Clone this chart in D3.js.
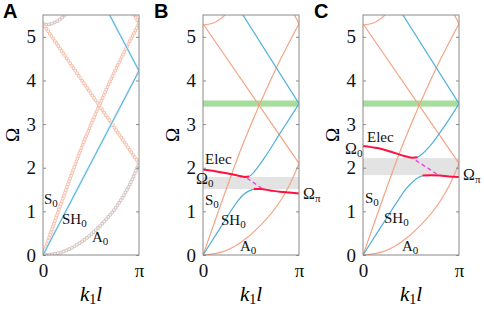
<!DOCTYPE html>
<html>
<head>
<meta charset="utf-8">
<script src="https://cdn.jsdelivr.net/npm/d3@7"></script>
<style>
body { margin: 0; background: #fff; }
</style>
</head>
<body>
<div id="chart-area"></div>
<script>
// wavenumber k1*l is stored in units of pi, frequency as Omega
let kTicks = [0, 1];
let kTickLabels = ["0", "π"];
let omegaTicks = [0, 1, 2, 3, 4, 5];
let panelNames = ["A", "B", "C"];

// plate branches (same in all three panels)
let s0 = [[0, 0], [0.2, 1.25], [0.4, 2.45], [0.6, 3.5], [0.8, 4.45], [1, 5.3]];
let s0Fold = [[0.953, 5.5], [1, 5.3]];
let a0 = [[0, 0], [0.2, 0.07], [0.4, 0.3], [0.6, 0.68], [0.8, 1.22], [0.9, 1.6], [1, 2.1]];
let a0Fold = [[0, 5.3], [1, 2.1]];
let a0Arc = [[0, 5.27], [0.1, 5.31], [0.17, 5.39], [0.23, 5.5]];

// SH0 in panel A (uncoupled)
let sh0A = [[0, 0], [1, 4.22]];
let sh0FoldA = [[1, 4.22], [0.694, 5.5]];
// SH0 fold in B and C
let sh0FoldBC = [[1, 3.47], [0.416, 5.5]];
let greenBand = [3.40, 3.54];

// panel B: coupled SH0 / electric branches
let upperRedB = [[0, 1.96], [0.1, 1.93], [0.2, 1.89], [0.3, 1.85], [0.38, 1.81], [0.44, 1.79], [0.48, 1.8]];
let upperBlueB = [[0.48, 1.8], [0.52, 1.87], [0.56, 1.98], [0.6, 2.1], [0.65, 2.26], [0.7, 2.43], [0.8, 2.78], [0.9, 3.12], [1, 3.47]];
let lowerBlueB = [[0, 0], [0.2, 0.69], [0.35, 1.2], [0.42, 1.38], [0.48, 1.47], [0.53, 1.51]];
let lowerRedB = [[0.53, 1.51], [0.6, 1.51], [0.7, 1.48], [0.8, 1.45], [0.9, 1.43], [1, 1.41]];
let elecDashB = [[0.46, 1.76], [0.63, 1.5]];
let gapB = [1.51, 1.79];

// panel C
let upperRedC = [[0, 2.5], [0.15, 2.45], [0.3, 2.36], [0.43, 2.27], [0.52, 2.23], [0.57, 2.24]];
let upperBlueC = [[0.57, 2.24], [0.62, 2.32], [0.67, 2.43], [0.72, 2.56], [0.8, 2.8], [0.9, 3.12], [1, 3.47]];
let lowerBlueC = [[0, 0], [0.2, 0.69], [0.35, 1.2], [0.45, 1.52], [0.52, 1.68], [0.58, 1.78], [0.62, 1.82]];
let lowerRedC = [[0.62, 1.82], [0.7, 1.83], [0.8, 1.82], [0.9, 1.8], [1, 1.79]];
let elecDashC = [[0.55, 2.17], [0.78, 1.84]];
let gapC = [1.83, 2.22];

let orange = "#f4a484", blue = "#4fb0da", red = "#ff1040", magenta = "#ee3fe6";
let serif = "'Liberation Serif', 'Times New Roman', serif";

let svg = d3.select("#chart-area")
    .append("svg")
    .attr("width", 484)
    .attr("height", 309);

let plotW = 96, plotTop = 15, plotBottom = 255;
let lefts = [43, 203, 363];
let letterX = [3, 154, 314];

let y = d3.scaleLinear().domain([0, 5.5]).range([plotBottom, plotTop]);

function drawPanel(i) {
    let left = lefts[i];
    let x = d3.scaleLinear().domain([0, 1]).range([left, left + plotW]);
    let g = svg.append("g");
    let clipId = "clip" + i;
    g.append("clipPath").attr("id", clipId)
        .append("rect").attr("x", left).attr("y", plotTop).attr("width", plotW).attr("height", plotBottom - plotTop);
    let plot = g.append("g").attr("clip-path", "url(#" + clipId + ")");

    let line = d3.line().x(d => x(d[0])).y(d => y(d[1])).curve(d3.curveMonotoneX);
    let lineK = d3.line().x(d => x(d[0])).y(d => y(d[1])).curve(d3.curveLinear);

    function band(b, color) {
        plot.append("rect")
            .attr("x", x(0)).attr("width", x(1) - x(0))
            .attr("y", y(b[1])).attr("height", y(b[0]) - y(b[1]))
            .attr("fill", color);
    }

    function path(data, color, width, gen) {
        return plot.append("path")
            .attr("d", (gen || line)(data))
            .attr("fill", "none")
            .attr("stroke", color)
            .attr("stroke-width", width);
    }

    // chain of hollow circles for the computed points in panel A
    function rings(data, outer, inner, gen) {
        path(data, outer, 3.8, gen).attr("stroke-dasharray", "0 3").attr("stroke-linecap", "round");
        path(data, inner, 2, gen).attr("stroke-dasharray", "0 3").attr("stroke-linecap", "round");
    }

    if (i === 0) {
        rings(a0, "#d2c2be", "#f8f4f3");
        rings(a0Arc, "#d2c2be", "#f8f4f3");
        rings(s0, "#f4bfac", "#fef3ef");
        rings(s0Fold, "#f4bfac", "#fef3ef", lineK);
        rings(a0Fold, "#f4bfac", "#fef3ef", lineK);
        path(sh0A, "#d3e9f4", 2.4, lineK);
        path(sh0FoldA, "#d3e9f4", 2.4, lineK);
        path(sh0A, blue, 1, lineK);
        path(sh0FoldA, blue, 1, lineK);
    } else {
        let gap = i === 1 ? gapB : gapC;
        band(gap, "#e3e3e3");
        band(greenBand, "#a4dd9c");
        path(a0, orange, 1.2);
        path(a0Arc, orange, 1.2);
        path(s0, orange, 1.2);
        path(s0Fold, orange, 1.2, lineK);
        path(a0Fold, orange, 1.2, lineK);
        path(sh0FoldBC, blue, 1.2, lineK);
        let ub = i === 1 ? upperBlueB : upperBlueC;
        let lb = i === 1 ? lowerBlueB : lowerBlueC;
        let ur = i === 1 ? upperRedB : upperRedC;
        let lr = i === 1 ? lowerRedB : lowerRedC;
        let dash = i === 1 ? elecDashB : elecDashC;
        path(ub, blue, 1.2);
        path(lb, blue, 1.2);
        path(dash, magenta, 1.4, lineK).attr("stroke-dasharray", "4 3");
        path(ur, red, 2);
        path(lr, red, 2);
    }

    // frame
    g.append("rect")
        .attr("x", left).attr("y", plotTop)
        .attr("width", plotW).attr("height", plotBottom - plotTop)
        .attr("fill", "none").attr("stroke", "#8a8a8a").attr("stroke-width", 1);

    let yAxis = g.append("g").attr("transform", `translate(${left},0)`)
        .call(d3.axisLeft(y).tickValues(omegaTicks).tickSize(-3).tickPadding(7).tickFormat(d3.format("d")));
    let yAxisR = g.append("g").attr("transform", `translate(${left + plotW},0)`)
        .call(d3.axisRight(y).tickValues(omegaTicks).tickSize(-3).tickFormat(""));
    let xAxis = g.append("g").attr("transform", `translate(0,${plotBottom})`)
        .call(d3.axisBottom(x).tickValues(kTicks).tickSize(0).tickPadding(9).tickFormat((d, j) => kTickLabels[j]));

    [yAxis, yAxisR, xAxis].forEach(a => {
        a.select(".domain").remove();
        a.selectAll("line").attr("stroke", "#8a8a8a");
        a.selectAll("text").attr("font-family", serif).attr("font-size", 19).attr("fill", "#111");
    });

    // axis titles
    let kl = g.append("text")
        .attr("x", left + plotW / 2).attr("y", 301)
        .attr("text-anchor", "middle")
        .attr("font-family", serif).attr("font-size", 21).attr("font-style", "italic");
    kl.append("tspan").text("k");
    kl.append("tspan").attr("font-style", "normal").attr("font-size", 14).attr("dy", 3).text("1");
    kl.append("tspan").attr("dy", -3).text("l");

    g.append("text")
        .attr("transform", `translate(${left - 31},${y(2.75)}) rotate(-90)`)
        .attr("text-anchor", "middle")
        .attr("dy", "0.35em")
        .attr("font-family", serif).attr("font-size", 19)
        .text("Ω");

    g.append("text")
        .attr("x", letterX[i]).attr("y", 18)
        .attr("font-family", "'Liberation Sans', Arial, sans-serif")
        .attr("font-weight", "bold").attr("font-size", 20)
        .text(panelNames[i]);
}

function label(px, py, main, sub, size) {
    let t = svg.append("text")
        .attr("x", px).attr("y", py)
        .attr("font-family", serif).attr("font-size", size || 15).attr("fill", "#111");
    t.append("tspan").text(main);
    if (sub) t.append("tspan").attr("font-size", 11).attr("dy", 3).text(sub);
}

for (let i = 0; i < 3; i++) drawPanel(i);

// mode labels
label(44, 204, "S", "0");
label(62, 224, "SH", "0");
label(92, 242, "A", "0");

label(205, 205, "S", "0");
label(221, 225, "SH", "0");
label(240, 251, "A", "0");
label(205, 164, "Elec");
label(196, 184, "Ω", "0", 16);
label(303, 199, "Ω", "π", 16);

label(365, 203, "S", "0");
label(384, 223, "SH", "0");
label(402, 251, "A", "0");
label(367, 142, "Elec");
label(345, 154, "Ω", "0", 16);
label(463, 180, "Ω", "π", 16);
</script>
</body>
</html>
